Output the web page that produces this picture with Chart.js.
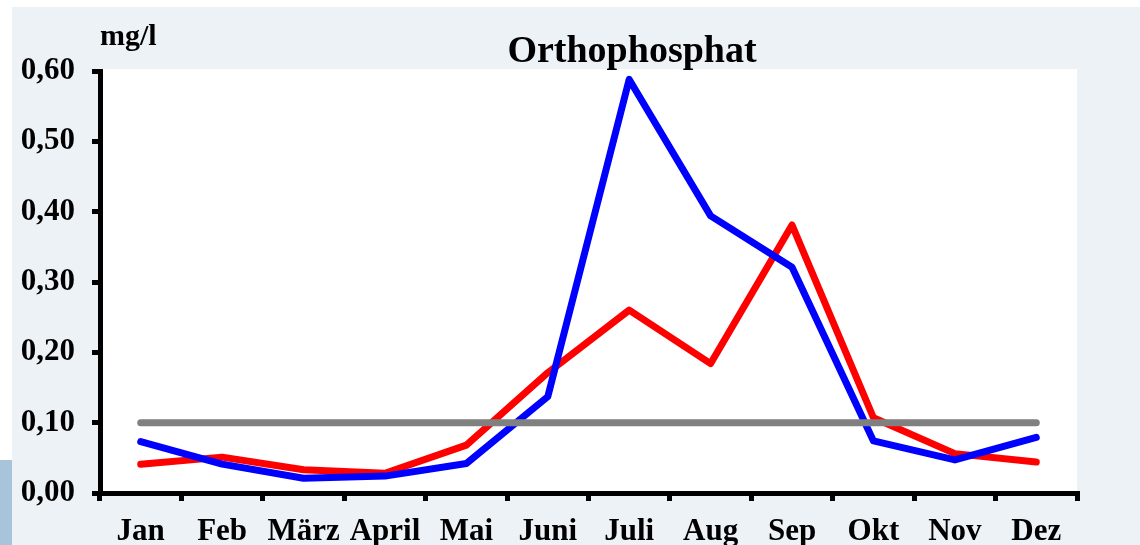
<!DOCTYPE html>
<html>
<head>
<meta charset="utf-8">
<script src="https://cdn.jsdelivr.net/npm/chart.js@4/dist/chart.umd.min.js"></script>
<style>
  html, body { margin: 0; padding: 0; background: #ffffff; }
  body { width: 1140px; height: 545px; position: relative; overflow: hidden; }
  #frame { position: absolute; left: 12px; top: 7px; width: 1128px; height: 538px; background: #edf2f7; }
  #strip { position: absolute; left: 0; top: 460px; width: 12px; height: 85px; background: #a8c4da; }
</style>
</head>
<body>
<div id="strip"></div>
<div id="frame"><canvas id="chart" width="1128" height="538"></canvas></div>
<script>
var months = ["Jan", "Feb", "März", "April", "Mai", "Juni", "Juli", "Aug", "Sep", "Okt", "Nov", "Dez"];
var redValues = [0.041, 0.051, 0.033, 0.028, 0.068, 0.171, 0.260, 0.184, 0.381, 0.107, 0.056, 0.044];
var blueValues = [0.073, 0.041, 0.021, 0.024, 0.042, 0.137, 0.588, 0.394, 0.321, 0.074, 0.047, 0.079];
var limitValues = [0.10, 0.10, 0.10, 0.10, 0.10, 0.10, 0.10, 0.10, 0.10, 0.10, 0.10, 0.10];
var yTicks = [0, 0.1, 0.2, 0.3, 0.4, 0.5, 0.6];

Chart.defaults.font.family = '"Liberation Serif", "Times New Roman", serif';
Chart.defaults.color = '#000000';

// white plot area plus title and unit text
var decor = {
    id: 'decor',
    beforeDraw: function(chart) {
        var c = chart.ctx, a = chart.chartArea;
        c.save();
        c.fillStyle = '#ffffff';
        c.fillRect(a.left, a.top - 2, a.right - a.left, a.bottom - a.top + 2);
        c.restore();
    },
    afterDraw: function(chart) {
        var c = chart.ctx, a = chart.chartArea;
        c.save();
        c.fillStyle = '#000000';
        c.textBaseline = 'alphabetic';
        c.font = 'bold 38px "Liberation Serif", serif';
        c.textAlign = 'center';
        c.fillText('Orthophosphat', a.left + 532, 55);
        c.font = 'bold 30px "Liberation Serif", serif';
        c.textAlign = 'left';
        c.fillText('mg/l', a.left, 38);
        c.restore();
    }
};

var ctx = document.getElementById('chart').getContext('2d');
var myChart = new Chart(ctx, {
    type: 'line',
    data: {
        labels: months,
        datasets: [{
            data: redValues,
            borderColor: '#ff0000',
            borderWidth: 7,
            order: 2
        }, {
            data: blueValues,
            borderColor: '#0000ff',
            borderWidth: 7,
            order: 1
        }, {
            data: limitValues,
            borderColor: '#808080',
            borderWidth: 7,
            order: 0
        }]
    },
    options: {
        responsive: false,
        animation: false,
        layout: {
            padding: { top: 64, right: 63, left: 0, bottom: 0 }
        },
        elements: {
            point: { radius: 0 },
            line: { tension: 0, borderCapStyle: 'round', borderJoinStyle: 'round' }
        },
        plugins: {
            legend: { display: false },
            title: { display: false },
            tooltip: { enabled: false }
        },
        scales: {
            x: {
                offset: true,
                grid: {
                    offset: true,
                    drawOnChartArea: false,
                    color: '#000000',
                    lineWidth: 5,
                    tickLength: 8
                },
                border: { color: '#000000', width: 5 },
                ticks: {
                    font: { size: 31, weight: 'bold' },
                    padding: 12,
                    maxRotation: 0,
                    autoSkip: false
                },
                afterFit: function(scale) { scale.height = 52; }
            },
            y: {
                min: 0,
                max: 0.6,
                afterBuildTicks: function(scale) {
                    scale.ticks = yTicks.map(function(v) { return { value: v }; });
                },
                grid: {
                    drawOnChartArea: false,
                    color: '#000000',
                    lineWidth: 5,
                    tickLength: 8
                },
                border: { color: '#000000', width: 5 },
                ticks: {
                    font: { size: 31, weight: 'bold' },
                    padding: 17,
                    callback: function(value) {
                        return value.toFixed(2).replace('.', ',');
                    }
                },
                afterFit: function(scale) { scale.width = 88; }
            }
        }
    },
    plugins: [decor]
});
</script>
</body>
</html>
